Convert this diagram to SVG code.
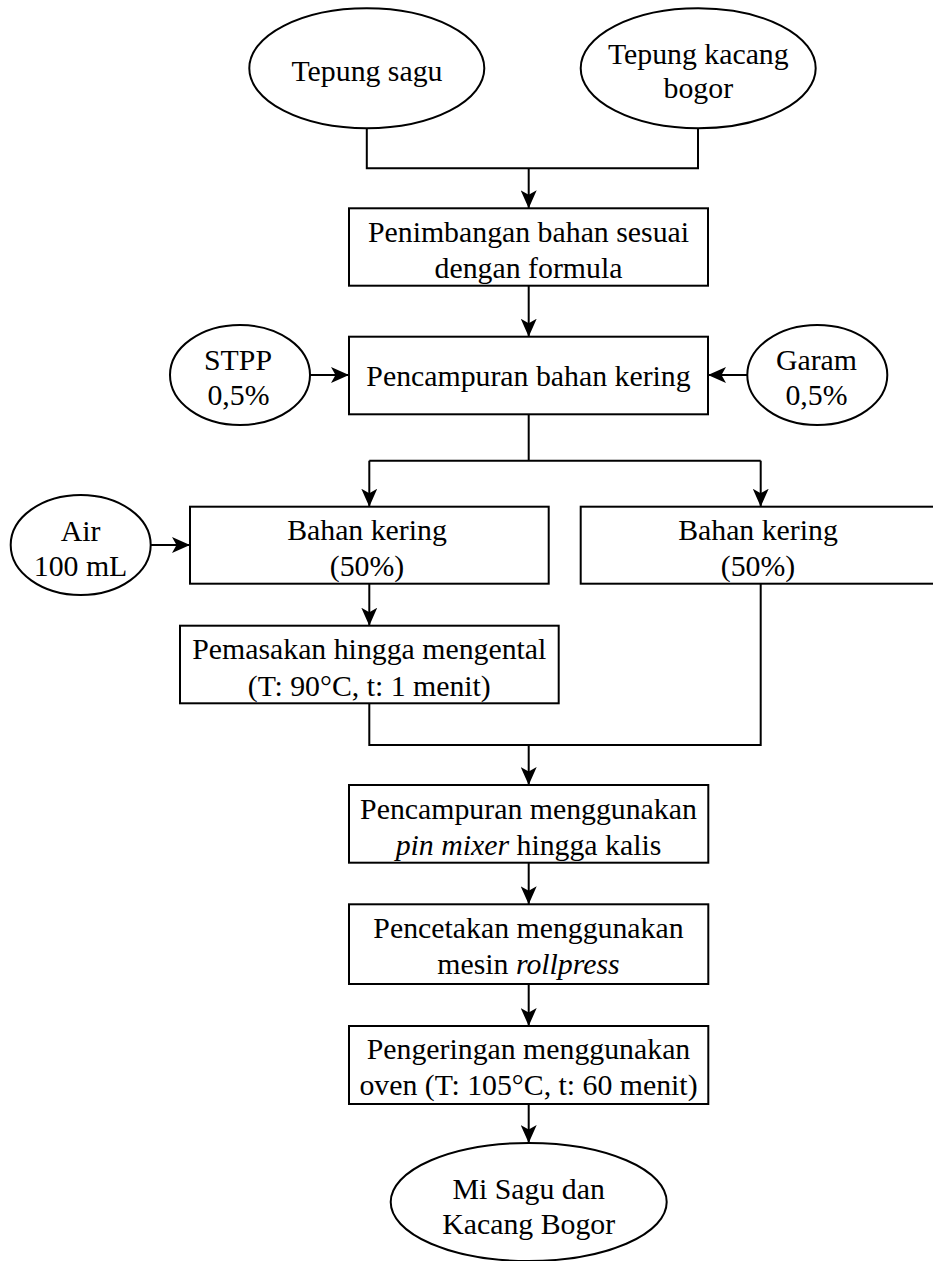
<svg xmlns="http://www.w3.org/2000/svg" width="933" height="1261" viewBox="0 0 933 1261">
<style>
.n{fill:#fff;stroke:#000;stroke-width:2}
.t{font-family:"Liberation Serif","Times New Roman",serif;font-size:29.8px;fill:#000;text-anchor:middle}
.c{fill:none;stroke:#000;stroke-width:2}
.i{font-style:italic}
</style>
<defs>
<marker id="ah" markerUnits="userSpaceOnUse" viewBox="0 0 18 16" markerWidth="18" markerHeight="16" refX="18" refY="8" orient="auto">
<path d="M0,0 L18,8 L0,16 L4.5,8 z" fill="#000"/>
</marker>
</defs>
<rect width="933" height="1261" fill="#fff"/>
<g id="connectors">
<path class="c" d="M366.8,128.3 V168.3 H698 V128.3"/>
<path class="c" d="M528.7,168.3 V208.3" marker-end="url(#ah)"/>
<path class="c" d="M528.7,285.7 V336.7" marker-end="url(#ah)"/>
<path class="c" d="M310,375 H349" marker-end="url(#ah)"/>
<path class="c" d="M747.3,375 H708" marker-end="url(#ah)"/>
<path class="c" d="M528.7,414.3 V460.7 M369.3,460.7 H760.7"/>
<path class="c" d="M369.3,460.7 V506.7" marker-end="url(#ah)"/>
<path class="c" d="M760.7,460.7 V506.7" marker-end="url(#ah)"/>
<path class="c" d="M150.7,545 H190" marker-end="url(#ah)"/>
<path class="c" d="M369.3,583.7 V625.7" marker-end="url(#ah)"/>
<path class="c" d="M369.3,703.3 V745 H760.7 V583.7"/>
<path class="c" d="M528.7,745 V785" marker-end="url(#ah)"/>
<path class="c" d="M528.7,862.7 V904.3" marker-end="url(#ah)"/>
<path class="c" d="M528.7,984 V1026" marker-end="url(#ah)"/>
<path class="c" d="M528.7,1104 V1143" marker-end="url(#ah)"/>
</g>
<g id="tepung-sagu">
<ellipse class="n" cx="366.8" cy="68.3" rx="117.5" ry="60"/>
<text class="t" x="367" y="80.5">Tepung sagu</text>
</g>
<g id="tepung-kacang">
<ellipse class="n" cx="698.2" cy="68.3" rx="117.5" ry="60"/>
<text class="t" x="698.3" y="63.5">Tepung kacang</text>
<text class="t" x="698.3" y="98">bogor</text>
</g>
<g id="penimbangan">
<rect class="n" x="349" y="208.3" width="359" height="77.4"/>
<text class="t" x="528.5" y="241.7">Penimbangan bahan sesuai</text>
<text class="t" x="528.5" y="277.7">dengan formula</text>
</g>
<g id="stpp">
<ellipse class="n" cx="240" cy="375" rx="70" ry="50"/>
<text class="t" x="238" y="369.5">STPP</text>
<text class="t" x="238.5" y="404.5">0,5%</text>
</g>
<g id="pencampuran-kering">
<rect class="n" x="349" y="336.7" width="359" height="77.6"/>
<text class="t" x="528.5" y="386">Pencampuran bahan kering</text>
</g>
<g id="garam">
<ellipse class="n" cx="817.3" cy="375" rx="70" ry="50"/>
<text class="t" x="816.5" y="369.5">Garam</text>
<text class="t" x="816.5" y="404.5">0,5%</text>
</g>
<g id="air">
<ellipse class="n" cx="80.7" cy="545" rx="70" ry="50"/>
<text class="t" x="80.5" y="540.5">Air</text>
<text class="t" x="80.5" y="576">100 mL</text>
</g>
<g id="bahan-kering-1">
<rect class="n" x="190" y="506.7" width="358.7" height="77"/>
<text class="t" x="367" y="539.5">Bahan kering</text>
<text class="t" x="367" y="576">(50%)</text>
</g>
<g id="bahan-kering-2">
<rect class="n" x="580.7" y="506.7" width="360" height="77"/>
<text class="t" x="758" y="539.5">Bahan kering</text>
<text class="t" x="758" y="576">(50%)</text>
</g>
<g id="pemasakan">
<rect class="n" x="180" y="625.7" width="378.7" height="77.6"/>
<text class="t" x="369.3" y="659.3">Pemasakan hingga mengental</text>
<text class="t" x="369.3" y="695.5">(T: 90°C, t: 1 menit)</text>
</g>
<g id="pencampuran-mixer">
<rect class="n" x="349" y="785" width="359.3" height="77.7"/>
<text class="t" x="528.5" y="818.5">Pencampuran menggunakan</text>
<text class="t" x="528.5" y="854.5"><tspan class="i">pin mixer</tspan> hingga kalis</text>
</g>
<g id="pencetakan">
<rect class="n" x="349" y="904.3" width="359.3" height="79.7"/>
<text class="t" x="528.5" y="938.3">Pencetakan menggunakan</text>
<text class="t" x="528.5" y="974.3">mesin <tspan class="i">rollpress</tspan></text>
</g>
<g id="pengeringan">
<rect class="n" x="349" y="1026" width="359.3" height="78"/>
<text class="t" x="528.5" y="1059.4">Pengeringan menggunakan</text>
<text class="t" x="528.5" y="1095.4">oven (T: 105°C, t: 60 menit)</text>
</g>
<g id="mi-sagu">
<ellipse class="n" cx="528.7" cy="1202" rx="138" ry="59"/>
<text class="t" x="528.7" y="1199.3">Mi Sagu dan</text>
<text class="t" x="528.7" y="1234.3">Kacang Bogor</text>
</g>
</svg>
